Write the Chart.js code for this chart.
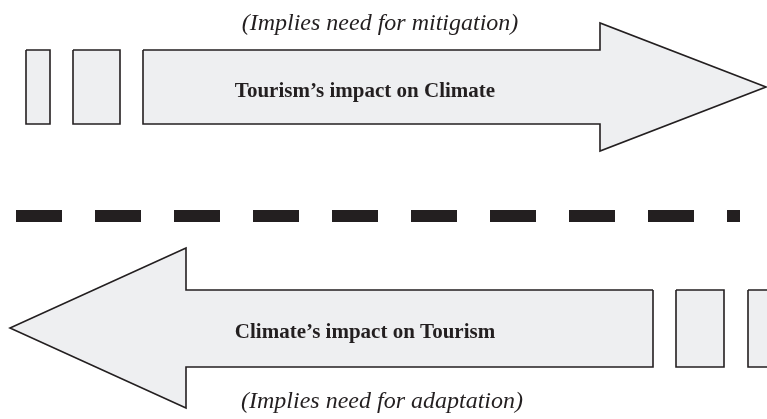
<!DOCTYPE html>
<html>
<head>
<meta charset="utf-8">
<script src="https://cdn.jsdelivr.net/npm/chart.js@4"></script>
<style>
  html, body { margin: 0; padding: 0; background: #ffffff; }
  #wrap { width: 767px; height: 419px; }
</style>
</head>
<body>
<div id="wrap"><canvas id="diagram" width="767" height="419"></canvas></div>
<script>
// Diagram coordinates (x to the right, y downwards)
const topBlock1 = [[26, 50], [50, 50], [50, 124], [26, 124]];
const topBlock2 = [[73, 50], [120, 50], [120, 124], [73, 124]];
const topArrow = [[143, 50], [600, 50], [600, 23], [766, 87], [600, 151], [600, 124], [143, 124]];

const bottomArrow = [[653, 290], [186, 290], [186, 248], [10, 328], [186, 408], [186, 367], [653, 367]];
const bottomBlock1 = [[676, 290], [724, 290], [724, 367], [676, 367]];
const bottomBlock2 = [[748, 290], [790, 290], [790, 367], [748, 367]];

const divider = [[16, 216], [740, 216]];

const captions = [
    { text: '(Implies need for mitigation)', x: 380, y: 30, style: 'italic' },
    { text: 'Tourism\u2019s impact on Climate', x: 365, y: 97, style: 'bold' },
    { text: 'Climate\u2019s impact on Tourism', x: 365, y: 338, style: 'bold' },
    { text: '(Implies need for adaptation)', x: 382, y: 408, style: 'italic' }
];

const shapes = [topBlock1, topBlock2, topArrow, bottomArrow, bottomBlock1, bottomBlock2];

const toPoints = pts => pts.map(p => ({ x: p[0], y: p[1] }));

const datasets = shapes.map(s => ({
    data: toPoints(s.concat([s[0]])),
    showLine: true,
    fill: 'shape',
    backgroundColor: '#eeeff1',
    borderColor: '#231f20',
    borderWidth: 1.6,
    borderJoinStyle: 'miter',
    pointRadius: 0,
    tension: 0
}));

datasets.push({
    data: toPoints(divider),
    showLine: true,
    fill: false,
    borderColor: '#231f20',
    borderWidth: 12,
    borderDash: [46, 33],
    borderCapStyle: 'butt',
    pointRadius: 0
});

// draws the captions at diagram coordinates
const captionPlugin = {
    id: 'captions',
    afterDatasetsDraw(chart) {
        const c = chart.ctx;
        const xs = chart.scales.x, ys = chart.scales.y;
        c.save();
        c.fillStyle = '#231f20';
        c.textAlign = 'center';
        c.textBaseline = 'alphabetic';
        captions.forEach(t => {
            c.font = t.style === 'bold'
                ? 'bold 21px "Liberation Serif", "DejaVu Serif", serif'
                : 'italic 24px "Liberation Serif", "DejaVu Serif", serif';
            c.fillText(t.text, xs.getPixelForValue(t.x), ys.getPixelForValue(t.y));
        });
        c.restore();
    }
};

new Chart(document.getElementById('diagram').getContext('2d'), {
    type: 'scatter',
    data: { datasets: datasets },
    options: {
        responsive: false,
        animation: false,
        layout: { padding: 0 },
        plugins: { legend: { display: false }, tooltip: { enabled: false } },
        scales: {
            x: { type: 'linear', min: 0, max: 767, display: false },
            y: { type: 'linear', min: 0, max: 419, reverse: true, display: false }
        }
    },
    plugins: [captionPlugin]
});
</script>
</body>
</html>
